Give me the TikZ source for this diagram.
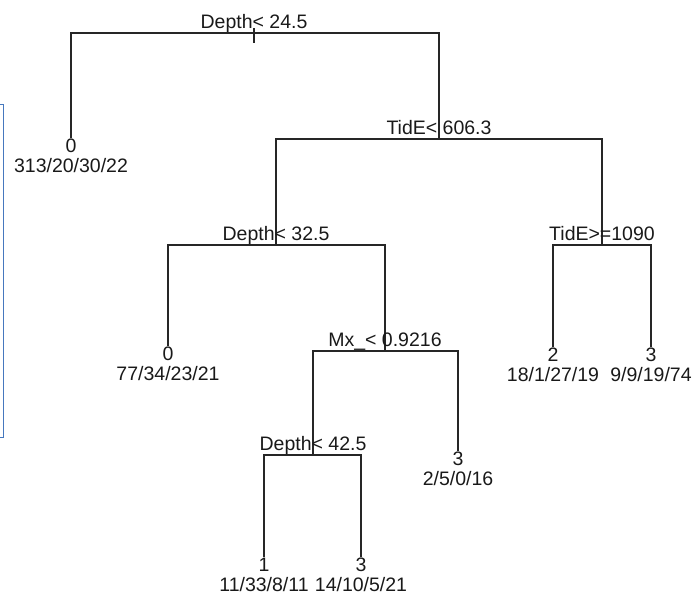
\documentclass[tikz,border=0pt]{standalone}
\usepackage{fontspec}
\setmainfont{Liberation Sans}
\definecolor{frameblue}{RGB}{70,120,190}
\tikzset{
	branch/.style={line width=1.3pt, draw=black!85},
	splitlbl/.style={anchor=base, yshift=5pt, inner sep=0pt, text=black!90},
	leaflbl/.style={anchor=north, align=center, inner sep=1pt, text=black!90}
}
\begin{document}
\begin{tikzpicture}[x=1pt, y=-1pt, font=\fontsize{19.5}{20}\selectfont, line join=miter, line cap=butt]
	\useasboundingbox (0,0) rectangle (697,595);
	% split points
	\coordinate (root) at (254,33);
	\coordinate (tide) at (439,139);
	\coordinate (dep32) at (276,245);
	\coordinate (tide2) at (602,245);
	\coordinate (mx) at (385,351);
	\coordinate (dep42) at (313,455);
	% leaf ends
	\coordinate (lf0) at (71,138);
	\coordinate (lf77) at (168,346);
	\coordinate (lf18) at (553,347);
	\coordinate (lf9) at (651,347);
	\coordinate (lf2) at (458,451);
	\coordinate (lf11) at (264,557);
	\coordinate (lf14) at (361,557);
	% branches
	\draw[branch] (lf0) |- (root) -| (tide);
	\draw[branch] (root) ++(0,-5) -- ++(0,15);
	\draw[branch] (dep32) |- (tide) -| (tide2);
	\draw[branch] (lf77) |- (dep32) -| (mx);
	\draw[branch] (lf18) |- (tide2) -| (lf9);
	\draw[branch] (dep42) |- (mx) -| (lf2);
	\draw[branch] (lf11) |- (dep42) -| (lf14);
	% split labels
	\node[splitlbl] (s1) at (root) {Depth< 24.5};
	\node[splitlbl] (s2) at (tide) {TidE< 606.3};
	\node[splitlbl] (s3) at (dep32) {Depth< 32.5};
	\node[splitlbl] (s4) at (tide2) {TidE>=1090};
	\node[splitlbl] (s5) at (mx) {Mx\_< 0.9216};
	\node[splitlbl] (s6) at (dep42) {Depth< 42.5};
	% leaf labels
	\node[leaflbl] (t0) at (lf0) {0\\313/20/30/22};
	\node[leaflbl] (t77) at (lf77) {0\\77/34/23/21};
	\node[leaflbl] (t18) at (lf18) {2\\18/1/27/19};
	\node[leaflbl] (t9) at (lf9) {3\\9/9/19/74};
	\node[leaflbl] (t2) at (lf2) {3\\2/5/0/16};
	\node[leaflbl] (t11) at (lf11) {1\\11/33/8/11};
	\node[leaflbl] (t14) at (lf14) {3\\14/10/5/21};
	% frame edge
	\draw[line width=0.9pt, draw=frameblue] (0,104) -- (3,104) -- (3,437) -- (0,437);
\end{tikzpicture}
\end{document}
